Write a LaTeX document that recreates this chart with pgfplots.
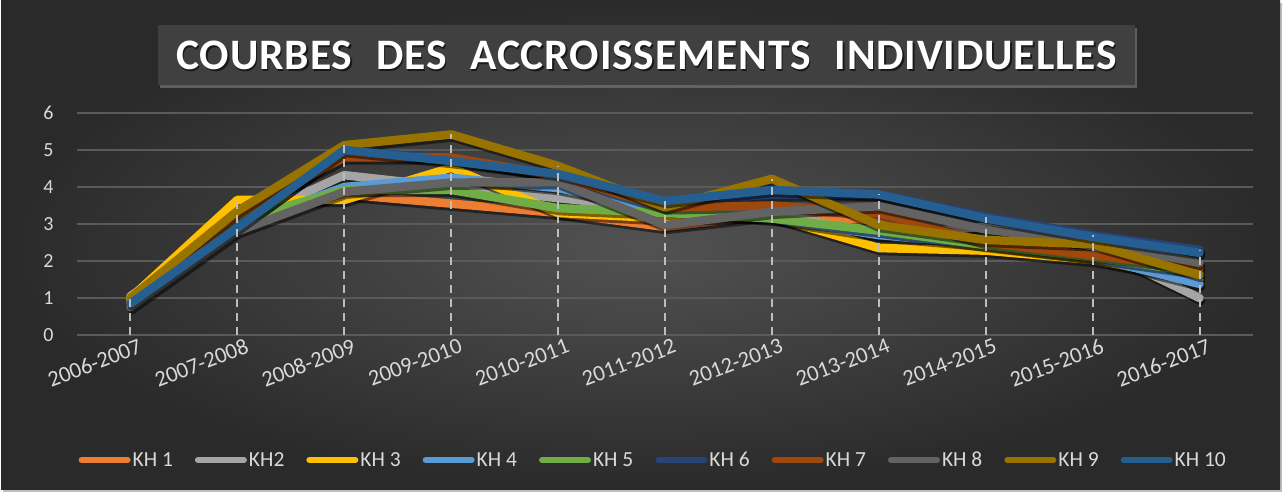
\documentclass[border=0pt]{standalone}
\usepackage{fontspec}
\setmainfont{Carlito}
\newfontfamily\titlefont[LetterSpace=2]{Carlito}
\usepackage{pgfplots}
\usepackage{pgfplotstable}
\pgfplotsset{compat=1.18}
\usetikzlibrary{shadows}

\definecolor{c1}{HTML}{ED7D31}
\definecolor{c2}{HTML}{A5A5A5}
\definecolor{c3}{HTML}{FFC000}
\definecolor{c4}{HTML}{5B9BD5}
\definecolor{c5}{HTML}{70AD47}
\definecolor{c6}{HTML}{264478}
\definecolor{c7}{HTML}{9E480E}
\definecolor{c8}{HTML}{636363}
\definecolor{c9}{HTML}{997300}
\definecolor{c10}{HTML}{255E91}
\definecolor{bgin}{HTML}{525252}
\definecolor{bgout}{HTML}{2A2A2A}
\definecolor{txt}{HTML}{D9D9D9}
\definecolor{gridc}{HTML}{5A5A5A}
\definecolor{dropc}{HTML}{BDBDBD}
\definecolor{titlebox}{HTML}{404040}

\pgfplotstableread{
x k1 k2 k3 k4 k5 k6 k7 k8 k9 k10 mx
0 0.95 1.05 1.00 0.85 0.90 0.85 0.90 0.75 1.00 0.85 1.05
1 3.20 3.00 3.65 2.95 3.10 2.90 3.25 2.80 3.35 2.90 3.65
2 3.80 4.32 3.65 4.00 3.92 5.00 4.80 3.87 5.13 5.00 5.13
3 3.55 4.00 4.52 4.25 3.92 4.75 4.80 4.12 5.42 4.70 5.42
4 3.30 3.70 3.30 3.97 3.43 4.30 4.30 4.13 4.57 4.35 4.57
5 2.92 3.40 3.15 3.38 3.30 3.60 3.45 2.97 3.45 3.62 3.62
6 3.25 3.30 3.20 3.15 3.15 3.80 3.50 3.33 4.22 3.92 4.22
7 3.10 2.70 2.35 2.70 2.82 3.80 3.30 3.48 2.97 3.80 3.80
8 2.45 2.93 2.28 2.45 2.43 3.20 2.50 2.85 2.57 3.15 3.20
9 2.15 2.40 2.03 2.10 2.10 2.70 2.15 2.50 2.45 2.65 2.70
10 1.80 1.00 1.50 1.38 1.70 2.30 1.83 1.95 1.62 2.22 2.30
}\data

\pgfplotsset{
  shad/.style={black, opacity=0.5, line width=8.5pt, line join=round, line cap=round, xshift=1.5pt, yshift=-3pt, forget plot},
  ser/.style={#1, line width=8.5pt, line join=round, line cap=round},
}

\newcommand{\titletext}{\titlefont\fontsize{43.5}{43.5}\selectfont\bfseries COURBES\hspace{0.3em} DES\hspace{0.3em} ACCROISSEMENTS\hspace{0.3em} INDIVIDUELLES}

\begin{document}
\begin{tikzpicture}
\path[use as bounding box] (0pt,0pt) rectangle (1285pt,495pt);
\fill[white] (0pt,0pt) rectangle (1285pt,495pt);
\shade[inner color=bgin, outer color=bgout, drop shadow={shadow xshift=2pt, shadow yshift=-2pt, opacity=0.5}] (1pt,5pt) rectangle (1280pt,494pt);
% title box
\node[fill=titlebox, minimum width=977pt, minimum height=60pt, inner sep=0pt,
  drop shadow={shadow xshift=2pt, shadow yshift=-3pt, opacity=0.6}] at (646.5pt,440pt) {};
\node[text=black, opacity=0.6] at (648pt,438pt) {\titletext};
\node[text=white] at (646.5pt,440pt) {\titletext};

\begin{axis}[
  at={(77pt,160pt)}, anchor=south west,
  scale only axis, width=1176pt, height=222pt,
  xmin=-0.5, xmax=10.5, ymin=0, ymax=6,
  xtick=data,
  xticklabels={2006-2007,2007-2008,2008-2009,2009-2010,2010-2011,2011-2012,2012-2013,2013-2014,2014-2015,2015-2016,2016-2017},
  ytick={0,1,2,3,4,5,6},
  ymajorgrids, major grid style={gridc, line width=1.2pt},
  axis line style={draw=none},
  tick style={draw=none},
  /pgf/number format/assume math mode=true,
  yticklabel style={font=\fontsize{20}{20}\selectfont, text=txt, anchor=east, xshift=-20pt},
  xticklabel style={font=\fontsize{22.5}{22.5}\selectfont, text=txt, rotate=21, anchor=north east, xshift=9pt, yshift=-2pt},
  legend columns=10,
  legend style={at={(0.49,-0.563)}, anchor=center, draw=none, fill=none,
    font=\fontsize{21.5}{21.5}\selectfont, text=txt,
    /tikz/every even column/.append style={column sep=20pt}},
  legend image code/.code={\draw[line width=6pt, line cap=round] (0pt,0pt) -- (46pt,0pt);},
]
\addplot[shad] table[x=x,y=k1]{\data};
\addplot[ser=c1] table[x=x,y=k1]{\data};
\addlegendentry{KH 1}
\addplot[shad] table[x=x,y=k2]{\data};
\addplot[ser=c2] table[x=x,y=k2]{\data};
\addlegendentry{KH2}
\addplot[shad] table[x=x,y=k3]{\data};
\addplot[ser=c3] table[x=x,y=k3]{\data};
\addlegendentry{KH 3}
\addplot[shad] table[x=x,y=k4]{\data};
\addplot[ser=c4] table[x=x,y=k4]{\data};
\addlegendentry{KH 4}
\addplot[shad] table[x=x,y=k5]{\data};
\addplot[ser=c5] table[x=x,y=k5]{\data};
\addlegendentry{KH 5}
\addplot[shad] table[x=x,y=k6]{\data};
\addplot[ser=c6] table[x=x,y=k6]{\data};
\addlegendentry{KH 6}
\addplot[shad] table[x=x,y=k7]{\data};
\addplot[ser=c7] table[x=x,y=k7]{\data};
\addlegendentry{KH 7}
\addplot[shad] table[x=x,y=k8]{\data};
\addplot[ser=c8] table[x=x,y=k8]{\data};
\addlegendentry{KH 8}
\addplot[shad] table[x=x,y=k9]{\data};
\addplot[ser=c9] table[x=x,y=k9]{\data};
\addlegendentry{KH 9}
\addplot[shad] table[x=x,y=k10]{\data};
\addplot[ser=c10] table[x=x,y=k10]{\data};
\addlegendentry{KH 10}
\addplot[ycomb, dropc, line width=2pt, dash pattern=on 8pt off 6pt, no markers, forget plot] table[x=x,y=mx]{\data};
\end{axis}
\end{tikzpicture}
\end{document}
